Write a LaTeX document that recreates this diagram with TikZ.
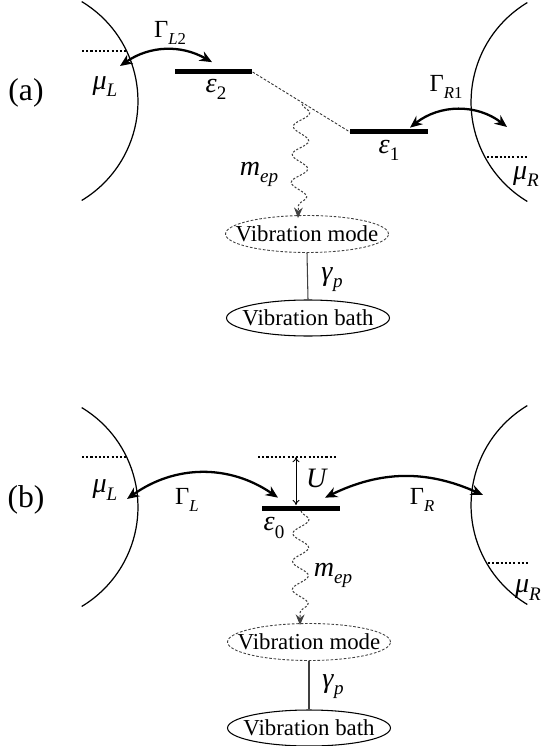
\documentclass[tikz,border=0pt]{standalone}
\usepackage{fontspec}
\setmainfont{Liberation Serif}
\usepackage{graphicx}
\usetikzlibrary{arrows.meta,shapes.geometric,decorations.pathmorphing}
\newcommand{\dn}[1]{\raisebox{-0.55ex}{\scalebox{0.68}{#1}}}

\begin{document}
\begin{tikzpicture}[x=0.02cm,y=-0.02cm,
  lead/.style={line width=0.7pt},
  fermi/.style={line width=1.4pt,dash pattern=on 1.2pt off 1.2pt},
  level/.style={fill=black,inner sep=0pt,minimum height=0.1cm,minimum width=1.55cm},
  hop/.style={line width=1.3pt,{Stealth[length=7pt,width=6pt]}-{Stealth[length=7pt,width=6pt]}},
  lbl/.style={font=\fontsize{16}{18}\selectfont,inner sep=0pt},
  glbl/.style={font=\fontsize{14}{16}\selectfont,inner sep=0pt},
  tag/.style={font=\fontsize{18}{20}\selectfont,inner sep=0pt},
  vib/.style={font=\fontsize{13}{15}\selectfont,inner sep=0pt},
  modebox/.style={ellipse,draw=black!75,line width=0.5pt,dash pattern=on 1.5pt off 1pt,
    inner sep=0pt,minimum width=3.26cm,minimum height=0.74cm},
  bathbox/.style={ellipse,draw,line width=0.6pt,inner sep=0pt,minimum width=3.26cm,minimum height=0.72cm},
  phonon/.style={draw=black!75,line width=0.6pt,dash pattern=on 1.2pt off 1pt,decorate,
    decoration={snake,segment length=0.56cm,amplitude=0.16cm,post length=0.15cm},
    -{Stealth[length=6pt,width=5pt]}},
  couple/.style={draw=black!75,line width=0.6pt}]
\useasboundingbox (0,0) rectangle (541,746);
% ---- (a) two levels ----
\node[tag] (taga) at (26,93) {(a)};
\draw[lead] (81.7,1.6) arc[start angle=-59,end angle=59,radius=116];
\draw[lead] (527.3,2.6) arc[start angle=-121,end angle=-239,radius=116];
\coordinate (fLa) at (82,51); \coordinate (fLb) at (127,51);
\coordinate (fRa) at (487,157); \coordinate (fRb) at (528,157);
\draw[fermi] (fLa) -- (fLb);
\draw[fermi] (fRa) -- (fRb);
\node[lbl] (muLa) at (105,87) {\textit{μ}\dn{\textit{L}}};
\node[lbl] (muRa) at (526,177) {\textit{μ}\dn{\textit{R}}};
\node[level] (e2) at (213.5,72) {};
\node[level] (e1) at (389,132) {};
\node[lbl] (e2lab) at (216,89) {\textit{ε}\dn{2}};
\node[lbl] (e1lab) at (389,150) {\textit{ε}\dn{1}};
\draw[black!80,line width=0.5pt,dash pattern=on 1.5pt off 1pt] (e2.east) -- (e1.west);
\coordinate (l2) at (120,66);
\coordinate (r1) at (507,127);
\draw[hop] (l2) to[bend left=32] ([xshift=-0.03cm,yshift=0.14cm]e2.north);
\draw[hop] ([xshift=0.42cm,yshift=0.03cm]e1.north) to[bend left=38] (r1);
\node[glbl] (gL2) at (170,33) {Γ\dn{\textit{L}2}};
\node[glbl] (gR1) at (446,87) {Γ\dn{\textit{R}1}};
\node[modebox,label={[vib]center:Vibration mode}] (modea) at (307,234) {};
\node[bathbox,label={[vib]center:Vibration bath}] (batha) at (308,318) {};
\coordinate (wa) at (302,104);
\draw[phonon] (wa) -- ([xshift=-0.18cm,yshift=-0.06cm]modea.north);
\node[lbl] (mepa) at (259,174) {\textit{m}\dn{\textit{ep}}};
\draw[couple] (modea.south) -- (batha.north);
\node[lbl] (gpa) at (332,280) {\textit{γ}\dn{\textit{p}}};
% ---- (b) single level with U ----
\node[tag] (tagb) at (26,500) {(b)};
\draw[lead] (81.7,407.6) arc[start angle=-59,end angle=59,radius=116];
\draw[lead] (527.3,405.6) arc[start angle=-121,end angle=-239,radius=116];
\coordinate (gLa) at (82,457); \coordinate (gLb) at (127,457);
\coordinate (gRa) at (488,563); \coordinate (gRb) at (528,563);
\draw[fermi] (gLa) -- (gLb);
\draw[fermi] (gRa) -- (gRb);
\node[lbl] (muLb) at (105,490) {\textit{μ}\dn{\textit{L}}};
\node[lbl] (muRb) at (528,590) {\textit{μ}\dn{\textit{R}}};
\node[level] (e0) at (301,508) {};
\node[lbl] (e0lab) at (274,528) {\textit{ε}\dn{0}};
\coordinate (ua) at (258,457); \coordinate (ub) at (336,457);
\draw[fermi] (ua) -- (ub);
\coordinate (ut) at (296,457);
\draw[line width=0.5pt,{To[length=3pt,width=4pt]}-{To[length=3pt,width=4pt]}] (ut) -- (ut |- e0.north);
\node[lbl] (ulab) at (317,478) {\textit{U}};
\coordinate (lb) at (127,499);
\coordinate (rb) at (483,495);
\draw[hop] (lb) to[bend left=35] ([xshift=-0.46cm,yshift=0.15cm]e0.north);
\draw[hop] ([xshift=0.48cm,yshift=0.15cm]e0.north) to[bend left=25] (rb);
\node[glbl] (gL) at (187,500) {Γ\dn{\textit{L}}};
\node[glbl] (gR) at (422,500) {Γ\dn{\textit{R}}};
\node[modebox,label={[vib]center:Vibration mode}] (modeb) at (309,642) {};
\node[bathbox,label={[vib]center:Vibration bath}] (bathb) at (309,728) {};
\draw[phonon] (e0.south) -- ([xshift=-0.18cm,yshift=-0.04cm]modeb.north);
\node[lbl] (mepb) at (333,575) {\textit{m}\dn{\textit{ep}}};
\draw[couple] (modeb.south) -- (bathb.north);
\node[lbl] (gpb) at (333,687) {\textit{γ}\dn{\textit{p}}};
\end{tikzpicture}
\end{document}
